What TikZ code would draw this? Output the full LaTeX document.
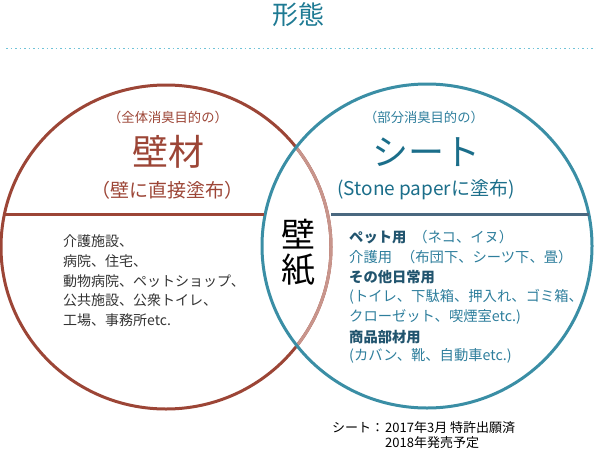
\documentclass[tikz,border=0pt]{standalone}
\usepackage{fontspec}
\setmainfont{Noto Sans CJK JP}
\definecolor{wallred}{HTML}{9C4536}
\definecolor{arcpink}{HTML}{C8958C}
\definecolor{circteal}{HTML}{3A8EA5}
\definecolor{linedark}{HTML}{4A6880}
\definecolor{titleteal}{HTML}{1E7A93}
\definecolor{sheetteal}{HTML}{1B6E8A}
\definecolor{textteal}{HTML}{2E7E9C}
\definecolor{boldteal}{HTML}{21546E}
\definecolor{dotblue}{HTML}{6FC3D8}
\definecolor{textgray}{HTML}{333333}
\tikzset{
  fs/.style={font=\fontsize{#1}{#1}\selectfont},
  ring/.style={line width=3pt},
  redtxt/.style={text=wallred, inner sep=0pt},
  tealtxt/.style={text=sheetteal, inner sep=0pt},
  leftitem/.style={anchor=west, inner sep=0pt, text=textgray, fs=14},
  rightitem/.style={anchor=west, inner sep=0pt, text=textteal, fs=14.3},
  rightbold/.style={rightitem, text=boldteal, font=\fontsize{14.3}{14.3}\selectfont\bfseries},
  noteitem/.style={anchor=west, inner sep=0pt, text=black, fs=13},
}
\begin{document}
\begin{tikzpicture}[x=1pt,y=-1pt]
\useasboundingbox (0,0) rectangle (596,450);
% title
\node[fs=26, text=titleteal, inner sep=0pt] (title) at (298,15) {形態};
\coordinate (dl) at (6,48);
\coordinate (dr) at (596,48);
\draw[dotblue, line width=1pt, dash pattern=on 1.5pt off 3pt] (dl) -- (dr);
% circles
\coordinate (lc) at (166,247);
\coordinate (rc) at (427,246);
\draw[wallred, ring] (lc) ellipse [x radius=165pt, y radius=162pt];
\begin{scope}
  \clip (rc) ellipse [x radius=165pt, y radius=162pt];
  \draw[arcpink, ring] (lc) ellipse [x radius=165pt, y radius=162pt];
\end{scope}
\draw[circteal, ring] (rc) ellipse [x radius=165pt, y radius=162pt];
% dividing lines
\coordinate (l1) at (4.5,214);
\coordinate (l2) at (264,214);
\coordinate (r1) at (331,214);
\coordinate (r2) at (589,214);
\draw[wallred, line width=3pt] (l1) -- (l2);
\draw[linedark, line width=3pt] (r1) -- (r2);
% left headings
\node[redtxt, fs=13.3] (lsub) at (168,117) {（全体消臭目的の）};
\node[redtxt, fs=36] (lmain) at (168,152) {壁材};
\node[redtxt, fs=19] (lnote) at (167,190) {（壁に直接塗布）};
% right headings
\node[tealtxt, fs=13.3, text=textteal] (rsub) at (424,117) {（部分消臭目的の）};
\node[tealtxt, fs=36] (rmain) at (426,152) {シート};
\node[tealtxt, fs=19] (rnote) at (426,190) {(Stone paperに塗布)};
% lens
\node[inner sep=0pt, fs=34] (k1) at (298,234) {壁};
\node[inner sep=0pt, fs=34] (k2) at (298,270) {紙};
% left list
\node[leftitem] (a1) at (63,241) {介護施設、};
\node[leftitem] (a2) at (63,261) {病院、住宅、};
\node[leftitem] (a3) at (63,281) {動物病院、ペットショップ、};
\node[leftitem] (a4) at (63,300) {公共施設、公衆トイレ、};
\node[leftitem] (a5) at (63,320) {工場、事務所etc.};
% right list
\node[rightitem] (b1) at (349,237) {{\bfseries\color{boldteal}ペット用}\hspace{7pt}（ネコ、イヌ）};
\node[rightitem] (b2) at (349,257) {介護用\hspace{9pt}（布団下、シーツ下、畳）};
\node[rightbold] (b3) at (349,277) {その他日常用};
\node[rightitem] (b4) at (349,297) {(トイレ、下駄箱、押入れ、ゴミ箱、};
\node[rightitem] (b5) at (349,317) {クローゼット、喫煙室etc.)};
\node[rightbold] (b6) at (349,337) {商品部材用};
\node[rightitem] (b7) at (349,356) {(カバン、靴、自動車etc.)};
% note
\node[noteitem] (n0) at (332,428) {シート：};
\node[noteitem] (n1) at (385,428) {2017年3月 特許出願済};
\node[noteitem] (n2) at (385,443) {2018年発売予定};
\end{tikzpicture}
\end{document}
